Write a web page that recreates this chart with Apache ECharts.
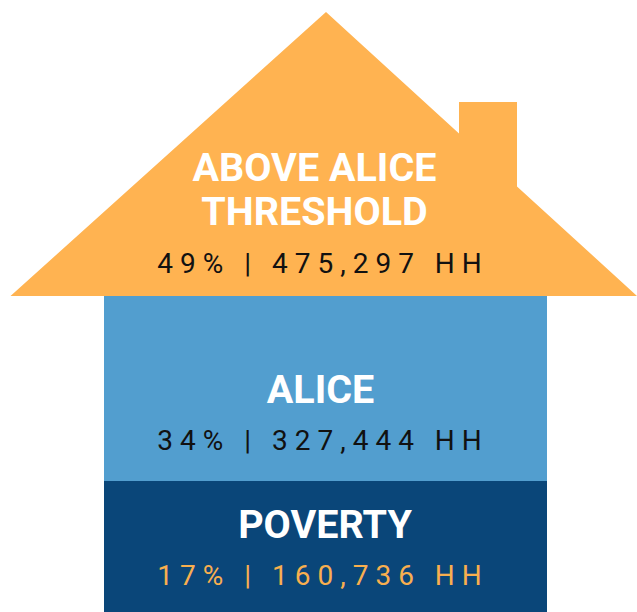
<!DOCTYPE html>
<html>
<head>
<meta charset="utf-8">
<title>ALICE house</title>
<script src="https://cdn.jsdelivr.net/npm/echarts@6/dist/echarts.min.js"></script>
<style>
html, body { margin: 0; padding: 0; background: #fff; }
#chart { width: 637px; height: 612px; }
/* the figure lines are spaced out */
#chart text[style*="28px"] { letter-spacing: 7px; }
</style>
</head>
<body>
<div id="chart"></div>
<script>
const categories = ['ABOVE ALICE\nTHRESHOLD', 'ALICE', 'POVERTY'];
const percents = [49, 34, 17];
const households = [475297, 327444, 160736];

// house drawn in axis units (0..637 across, 0..612 down)
const roof = [[10.5, 296], [326, 12], [459, 133.5], [459, 102], [517, 102], [517, 186.4], [637, 296]];
const bands = [
    null,
    { x0: 104, y0: 296, x1: 547, y1: 481 },
    { x0: 104, y0: 481, x1: 547, y1: 613 }
];
const looks = [
    { fill: '#FFB351', title: '#fff', value: '#111', tx: 314.5, ty: 167.5, vx: 323, vy: 263 },
    { fill: '#529ECF', title: '#fff', value: '#111', tx: 320.5, ty: 389, vx: 323, vy: 440 },
    { fill: '#0A4679', title: '#fff', value: '#F8AF4F', tx: 325, ty: 524.5, vx: 323, vy: 575.5 }
];

function renderItem (params, api) {
    const i = params.dataIndex;
    const look = looks[i];
    const children = [];

    if (i === 0) {
        children.push({
            type: 'polygon',
            shape: { points: roof.map(p => api.coord(p)) },
            style: { fill: look.fill }
        });
    } else {
        const b = bands[i];
        const a = api.coord([b.x0, b.y0]);
        const c = api.coord([b.x1, b.y1]);
        children.push({
            type: 'rect',
            shape: { x: a[0], y: a[1], width: c[0] - a[0], height: c[1] - a[1] },
            style: { fill: look.fill }
        });
    }

    categories[i].split('\n').forEach((line, k) => {
        const p = api.coord([look.tx, look.ty + k * 44]);
        children.push({
            type: 'text',
            style: {
                text: line,
                x: p[0],
                y: p[1],
                fill: look.title,
                fontFamily: 'Roboto',
                fontWeight: 'bold',
                fontSize: 39.5,
                align: 'center',
                verticalAlign: 'middle'
            }
        });
    });

    const v = api.coord([look.vx, look.vy]);
    children.push({
        type: 'text',
        style: {
            text: percents[i] + '% | ' + echarts.format.addCommas(households[i]) + ' HH',
            x: v[0],
            y: v[1],
            fill: look.value,
            fontFamily: 'Roboto',
            fontSize: 28,
            align: 'center',
            verticalAlign: 'middle'
        }
    });

    return { type: 'group', children: children };
}

const chart = echarts.init(document.getElementById('chart'), null, { renderer: 'svg' });
chart.setOption({
    animation: false,
    grid: { left: 0, right: 0, top: 0, bottom: 0 },
    xAxis: { type: 'value', min: 0, max: 637, show: false },
    yAxis: { type: 'value', min: 0, max: 612, inverse: true, show: false },
    series: [{
        type: 'custom',
        silent: true,
        encode: { x: 0, y: 1 },
        data: categories.map((c, i) => [i, percents[i], households[i]]),
        renderItem: renderItem
    }]
});
</script>
</body>
</html>
